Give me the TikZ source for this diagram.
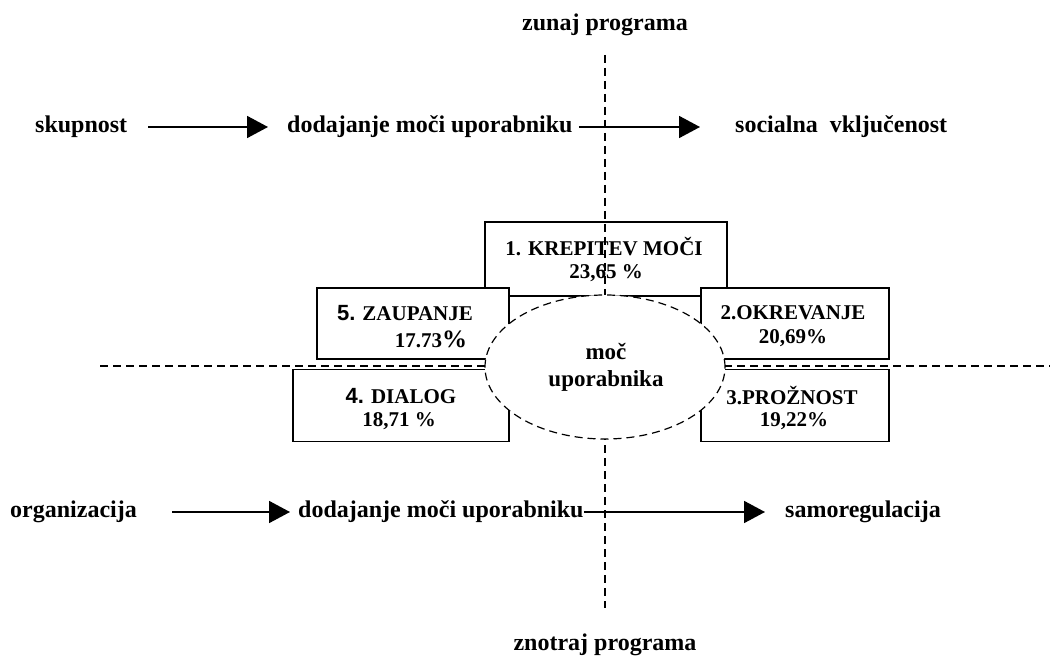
\documentclass[tikz,border=0pt]{standalone}
\usepackage{fontspec}
\setmainfont{Liberation Serif}
\setsansfont{Liberation Sans}
\usetikzlibrary{arrows.meta,shapes.geometric}
\tikzset{
  rowtxt/.style={font=\bfseries\fontsize{24}{26}\selectfont, inner sep=0pt},
  boxtxt/.style={font=\bfseries\fontsize{21}{23}\selectfont, inner sep=0pt},
  catbox/.style={draw, line width=1.3pt, fill=white, rectangle, inner sep=0pt},
  axis/.style={dashed, line width=1.2pt, dash pattern=on 8pt off 5pt},
  arr/.style={line width=1.8pt, -{Triangle[length=21pt,width=22pt]}},
}
\begin{document}
\begin{tikzpicture}[x=1pt,y=-1pt]
\useasboundingbox (0,0) rectangle (1050,660);
% titles
\node[rowtxt] (zunaj) at (605,25) {zunaj programa};
\node[rowtxt] (znotraj) at (605,645) {znotraj programa};
% top row
\node[rowtxt, anchor=west] (sk) at (35,127) {skupnost};
\node[rowtxt, anchor=west] (dod1) at (287,127) {dodajanje moči uporabniku};
\node[rowtxt, anchor=west] (soc) at (735,127) {socialna\ \ vključenost};
% bottom row
\node[rowtxt, anchor=west] (org) at (10,512) {organizacija};
\node[rowtxt, anchor=west] (dod2) at (298,512) {dodajanje moči uporabniku};
\node[rowtxt, anchor=west] (samo) at (785,512) {samoregulacija};
% boxes
\node[catbox, minimum width=242pt, minimum height=74pt] (b1) at (606,259) {};
\node[catbox, minimum width=192pt, minimum height=71pt] (b5) at (413,323.5) {};
\node[catbox, minimum width=216pt, minimum height=72pt] (b4) at (401,405.5) {};
\node[catbox, minimum width=188pt, minimum height=71pt] (b2) at (795,323.5) {};
\node[catbox, minimum width=188pt, minimum height=72pt] (b3) at (795,405.5) {};
% box texts
\node[boxtxt] (t1a) at (604,247) {1. KREPITEV MOČI};
\node[boxtxt] (t1b) at (606,273) {23,65 \%};
\node[boxtxt] (t5a) at (405,313) {{\sffamily\fontsize{22}{24}\selectfont 5.} ZAUPANJE};
\node[boxtxt] (t5b) at (431,339) {17.73{\fontsize{25}{25}\selectfont\%}};
\node[boxtxt] (t4a) at (401,396) {{\sffamily\fontsize{22}{24}\selectfont 4.} DIALOG};
\node[boxtxt] (t4b) at (399,421) {18,71 \%};
\node[boxtxt] (t2a) at (793,313) {2.OKREVANJE};
\node[boxtxt] (t2b) at (793,338) {20,69\%};
\node[boxtxt] (t3a) at (792,396) {3.PROŽNOST};
\node[boxtxt] (t3b) at (794,421) {19,22\%};
% axes
\coordinate (vtop) at (605,55);
\coordinate (vbot) at (605,608);
\coordinate (hleft) at (100,366);
\coordinate (hright) at (1050,366);
\draw[axis] (vtop) -- (vbot);
\draw[axis] (hleft) -- (hright);
% central ellipse
\node[ellipse, draw, fill=white, axis, minimum width=240pt, minimum height=144pt] (core) at (605,367) {};
\node[font=\bfseries\fontsize{23}{25}\selectfont, align=center, inner sep=0pt] (coretxt) at (606,367) {moč\\[2pt]uporabnika};
% arrows
\draw[arr, shorten <=21pt, shorten >=19pt] (sk.east) -- (dod1.west);
\draw[arr, shorten <=6pt, shorten >=35pt] (dod1.east) -- (soc.west);
\draw[arr, shorten <=35pt, shorten >=8pt] (org.east) -- (dod2.west);
\draw[arr, shorten >=20pt] (dod2.east) -- (samo.west);
\end{tikzpicture}
\end{document}
